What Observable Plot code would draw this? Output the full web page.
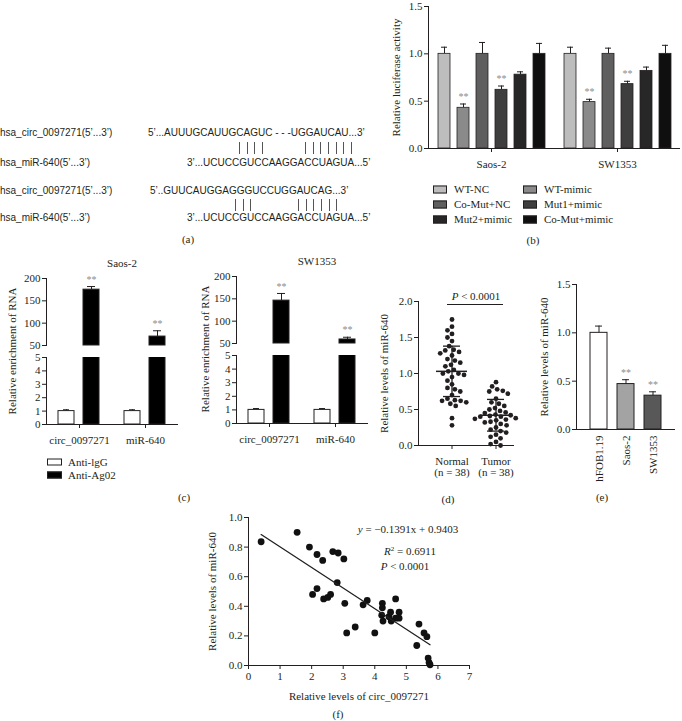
<!DOCTYPE html>
<html>
<head>
<meta charset="utf-8">
<script src="https://cdn.jsdelivr.net/npm/d3@7"></script>
<script src="https://cdn.jsdelivr.net/npm/@observablehq/plot@0.6"></script>
<style>
html,body{margin:0;padding:0;background:#fff;}
#root{position:relative;width:682px;height:721px;overflow:hidden;background:#fff;font-family:"Liberation Serif","Times New Roman",serif;color:#231f20;}
#root > svg{position:absolute;overflow:visible;}
.t{position:absolute;white-space:nowrap;line-height:1;}
.sw{display:inline-block;box-sizing:border-box;border:1px solid #231f20;}
</style>
</head>
<body>
<div id="root"></div>
<script>
// ================= DATA =================
// (a) sequence alignment
const seqLabels = ["hsa_circ_0097271(5\u2019...3\u2019)", "hsa_miR-640(5\u2019...3\u2019)", "hsa_circ_0097271(5\u2019...3\u2019)", "hsa_miR-640(5\u2019...3\u2019)"];
const seqTexts = ["5\u2019...AUUUGCAUUGCAGUC - - -UGGAUCAU...3\u2019", "3\u2019...UCUCCGUCCAAGGACCUAGUA...5\u2019", "5\u2019..GUUCAUGGAGGGUCCUGGAUCAG...3\u2019", "3\u2019...UCUCCGUCCAAGGACCUAGUA...5\u2019"];
const pairMarks = [["||||", "|||||||"], ["|||", "||||||"]];

// (b) luciferase
const lucGroups = ["Saos-2", "SW1353"];
const lucSeries = ["WT-NC", "WT-mimic", "Co-Mut+NC", "Mut1+mimic", "Mut2+mimic", "Co-Mut+mimic"];
const lucColors = ["#bdbdbd", "#8a8a8a", "#5f5f5f", "#3e3e3e", "#272727", "#0f0f0f"];
const lucSaos2 = [1.0, 0.43, 1.0, 0.62, 0.78, 1.0];
const lucSaos2Err = [0.07, 0.04, 0.12, 0.04, 0.03, 0.11];
const lucSW1353 = [1.0, 0.49, 1.0, 0.68, 0.82, 1.0];
const lucSW1353Err = [0.07, 0.03, 0.06, 0.03, 0.04, 0.09];
const lucSig = ["", "**", "", "**", "", ""];

// (c) RIP
const ripTargets = ["circ_0097271", "miR-640"];
const ripAntibodies = ["Anti-lgG", "Anti-Ag02"];
const ripFill = ["#ffffff", "#000000"];
const ripSaos2 = [1.0, 175, 1.0, 70];      // circ IgG, circ Ago2, miR IgG, miR Ago2
const ripSaos2Err = [0.1, 7, 0.1, 13];
const ripSW1353 = [1.0, 146, 1.0, 59];
const ripSW1353Err = [0.1, 16, 0.1, 5];
const ripSig = ["", "**", "", "**"];
const ripUpperDomain = [50, 200];
const ripUpperTicks = [50, 100, 150, 200];
const ripLowerDomain = [0, 5];
const ripLowerTicks = [0, 1, 2, 3, 4, 5];

// (d) tissues
const mirGroups = ["Normal", "Tumor"];
const mirGroupN = ["(n = 38)", "(n = 38)"];
const normalVals = [1.75, 1.65, 1.6, 1.55, 1.5, 1.45, 1.38, 1.33, 1.32, 1.3, 1.28, 1.25, 1.2, 1.18, 1.15, 1.12, 1.1, 1.05, 1.03, 1.0, 1.0, 0.98, 0.95, 0.9, 0.85, 0.8, 0.78, 0.75, 0.7, 0.65, 0.63, 0.62, 0.62, 0.6, 0.58, 0.55, 0.38, 0.28];
const tumorVals = [0.88, 0.82, 0.78, 0.76, 0.75, 0.72, 0.65, 0.6, 0.58, 0.55, 0.52, 0.5, 0.48, 0.46, 0.45, 0.43, 0.42, 0.41, 0.4, 0.4, 0.38, 0.37, 0.36, 0.35, 0.33, 0.32, 0.3, 0.28, 0.25, 0.22, 0.2, 0.18, 0.15, 0.12, 0.1, 0.05, 0.02, 0.0];
const mirMeans = [1.03, 0.42];
const mirSDs = [0.35, 0.22];
const mirYTicks = [0, 0.5, 1.0, 1.5, 2.0];

// (e) cell lines
const cellLines = ["hFOB1.19", "Saos-2", "SW1353"];
const cellVals = [1.0, 0.47, 0.35];
const cellErr = [0.07, 0.045, 0.04];
const cellFill = ["#ffffff", "#a3a3a3", "#585858"];
const cellSig = ["", "**", "**"];

// (f) correlation
const circLevels = [0.40, 1.54, 1.93, 2.17, 2.35, 2.67, 2.84, 3.02, 2.81, 2.03, 2.17, 2.38, 2.51, 2.60, 3.05, 3.11, 3.38, 3.63, 3.76, 4.00, 4.24, 4.24, 4.22, 4.26, 4.45, 4.50, 4.52, 4.66, 4.66, 4.77, 4.77, 5.40, 5.33, 5.56, 5.65, 5.69, 5.72, 5.75];
const mirLevels = [0.836, 0.90, 0.80, 0.75, 0.71, 0.77, 0.76, 0.72, 0.56, 0.48, 0.52, 0.45, 0.46, 0.48, 0.42, 0.22, 0.26, 0.41, 0.44, 0.22, 0.42, 0.39, 0.34, 0.30, 0.33, 0.36, 0.30, 0.45, 0.32, 0.36, 0.32, 0.28, 0.135, 0.22, 0.195, 0.05, 0.02, 0.005];
const regSlope = -0.1391, regIntercept = 0.9403;
const corrXTicks = [0, 1, 2, 3, 4, 5, 6, 7];
const corrYTicks = [0, 0.2, 0.4, 0.6, 0.8, 1.0];

// ================= HELPERS =================
const ink = "#231f20";
const sans = '"Liberation Sans", Arial, sans-serif';
const root = document.getElementById("root");
const S = () => ({fontFamily: '"Liberation Serif", "Times New Roman", serif', fontSize: "11px", color: ink, background: "transparent", overflow: "visible"});
function place(node, left, top) {
  node.style.position = "absolute";
  node.style.left = left + "px";
  node.style.top = top + "px";
  root.appendChild(node);
  return node;
}
function addText(html, x, y, {anchor = "middle", size = 11, family, rotate = 0, color} = {}) {
  const d = document.createElement("div");
  d.className = "t";
  d.innerHTML = html;
  d.style.left = x + "px";
  d.style.top = y + "px";
  d.style.fontSize = size + "px";
  if (family) d.style.fontFamily = family;
  if (color) d.style.color = color;
  const tx = anchor === "start" ? "0" : anchor === "end" ? "-100%" : "-50%";
  d.style.transform = `translate(${tx},-50%)` + (rotate ? ` rotate(${rotate}deg)` : "");
  root.appendChild(d);
  return d;
}
function pairBars(str, x, y, pitch, h) {
  const d = document.createElement("div");
  d.style.cssText = `position:absolute;left:${x}px;top:${y - h / 2}px;height:${h}px;display:flex;`;
  d.title = str;
  for (const ch of str) {
    const s = document.createElement("span");
    s.style.cssText = `display:block;width:${pitch}px;height:${h}px;box-sizing:border-box;border-left:1px solid #555;`;
    d.appendChild(s);
  }
  root.appendChild(d);
}
function swatchRow(label, fill, x, y, w, h, gap) {
  const d = document.createElement("div");
  d.className = "t";
  d.style.left = x + "px";
  d.style.top = y + "px";
  d.style.transform = "translate(0,-50%)";
  d.style.display = "flex";
  d.style.alignItems = "center";
  d.style.fontSize = "11px";
  const s = document.createElement("span");
  s.className = "sw";
  s.style.width = w + "px";
  s.style.height = h + "px";
  s.style.background = fill;
  s.style.marginRight = gap + "px";
  d.appendChild(s);
  d.appendChild(document.createTextNode(label));
  root.appendChild(d);
}

// ================= (a) =================
const rowY = [133, 163, 191, 218];
const seqX = [148, 187, 150, 187];
seqLabels.forEach((s, i) => addText(s, 0, rowY[i], {anchor: "start", size: 10, family: sans}));
seqTexts.forEach((s, i) => addText(s, seqX[i], rowY[i], {anchor: "start", size: 10, family: sans}));
const pairY = [148, 205];
const pairX = [[239, 305], [235, 298]];
pairMarks.forEach((grp, r) => grp.forEach((m, k) => pairBars(m, pairX[r][k], pairY[r], 7.7, 12)));
addText("(a)", 188, 239);

// ================= (b) =================
const lucRows = lucGroups.flatMap((g, gi) => lucSeries.map((s, si) => ({
  group: g, series: s,
  value: [lucSaos2, lucSW1353][gi][si],
  err: [lucSaos2Err, lucSW1353Err][gi][si],
  sig: lucSig[si]
})));
const plotB = Plot.plot({
  width: 322, height: 180, marginLeft: 68, marginRight: 2, marginTop: 6, marginBottom: 32,
  style: S(),
  fx: {domain: lucGroups, padding: 0, label: null, tickSize: 4, tickPadding: 8},
  x: {domain: lucSeries, paddingInner: 0.38, paddingOuter: 0.455, axis: null},
  y: {domain: [0, 1.5], ticks: [0, 0.5, 1, 1.5], tickFormat: ".1f", line: true, tickSize: 4, tickPadding: 2,
      label: "Relative luciferase activity", labelAnchor: "center", labelArrow: "none", labelOffset: 36},
  color: {domain: lucSeries, range: lucColors},
  marks: [
    Plot.ruleX(lucRows, {fx: "group", x: "series", y1: "value", y2: d => d.value + d.err, stroke: ink}),
    Plot.tickY(lucRows, {fx: "group", x: "series", y: d => d.value + d.err, stroke: ink, insetLeft: 3, insetRight: 3}),
    Plot.barY(lucRows, {fx: "group", x: "series", y: "value", fill: "series", stroke: ink, strokeWidth: 0.8}),
    Plot.text(lucRows.filter(d => d.sig), {fx: "group", x: "series", y: d => d.value + d.err, text: "sig", dy: -7, fill: "#8c8c8c", fontSize: 10}),
    Plot.ruleY([0], {stroke: ink})
  ]
});
place(plotB, 360, 0);
// legend (row-major, 2 columns)
lucSeries.forEach((s, i) => swatchRow(s, lucColors[i], i % 2 === 0 ? 433 : 523, 189 + Math.floor(i / 2) * 15, 14, 8, 7));
addText("(b)", 533, 240);

// ================= (c) =================
function ripPanel(left, upperTop, upperPx, lowerTop, lowerPx, vals, errs) {
  const rows = ripTargets.flatMap((t, i) => ripAntibodies.map((a, j) => ({
    target: t, ab: a, value: vals[i * 2 + j], err: errs[i * 2 + j], sig: ripSig[i * 2 + j]
  })));
  const big = rows.filter(d => d.value > ripUpperDomain[0]);
  const small = rows.filter(d => d.value <= ripLowerDomain[1]);
  const base = {
    width: 180, marginLeft: 46, marginRight: 2, style: S(),
    x: {domain: ripAntibodies, paddingInner: 0.34, paddingOuter: 0.49, axis: null},
    color: {domain: ripAntibodies, range: ripFill}
  };
  const upper = Plot.plot({
    ...base, height: 8 + upperPx + 2, marginTop: 8, marginBottom: 2,
    fx: {domain: ripTargets, padding: 0, axis: null},
    y: {domain: ripUpperDomain, ticks: ripUpperTicks, tickFormat: "d", line: true, tickSize: 4, tickPadding: 2, label: null},
    marks: [
      Plot.ruleX(big, {fx: "target", x: "ab", y1: "value", y2: d => d.value + d.err, stroke: ink}),
      Plot.tickY(big, {fx: "target", x: "ab", y: d => d.value + d.err, stroke: ink, insetLeft: 4, insetRight: 4}),
      Plot.barY(big, {fx: "target", x: "ab", y1: ripUpperDomain[0], y2: "value", fill: "ab", stroke: ink}),
      Plot.text(big.filter(d => d.sig), {fx: "target", x: "ab", y: d => d.value + d.err, text: "sig", dy: -7, fill: "#8c8c8c", fontSize: 10})
    ]
  });
  const lower = Plot.plot({
    ...base, height: 7 + lowerPx + 30, marginTop: 7, marginBottom: 30,
    fx: {domain: ripTargets, padding: 0, label: null, tickSize: 4, tickPadding: 8},
    y: {domain: ripLowerDomain, ticks: ripLowerTicks, tickFormat: "d", line: true, tickSize: 4, tickPadding: 2, label: null},
    marks: [
      Plot.ruleX(small, {fx: "target", x: "ab", y1: "value", y2: d => d.value + d.err, stroke: ink}),
      Plot.tickY(small, {fx: "target", x: "ab", y: d => d.value + d.err, stroke: ink, insetLeft: 5, insetRight: 5}),
      Plot.barY(rows, {fx: "target", x: "ab", y: "value", fill: "ab", stroke: ink, clip: true}),
      Plot.ruleY([0], {stroke: ink})
    ]
  });
  place(upper, left, upperTop);
  place(lower, left, lowerTop);
}
ripPanel(0, 270, 67, 350, 67, ripSaos2, ripSaos2Err);
ripPanel(190, 268, 67, 348, 68, ripSW1353, ripSW1353Err);
addText("Saos-2", 122, 263);
addText("SW1353", 317, 261);
addText("Relative enrichment of RNA", 12, 351, {rotate: -90});
addText("Relative enrichment of RNA", 205, 349, {rotate: -90});
ripAntibodies.forEach((a, i) => swatchRow(a, ripFill[i], 47, 462 + i * 13, 15, 7, 6));
addText("(c)", 184, 497);

// ================= (d) =================
const dRows = mirGroups.flatMap((g, i) => (i === 0 ? normalVals : tumorVals).map(v => ({group: g, value: v})));
const dSummary = mirGroups.map((g, i) => ({group: g, mean: mirMeans[i], sd: mirSDs[i]}));
const dBand = {domain: mirGroups, paddingInner: 0.3, paddingOuter: 0.2167, align: 0.83};
const dDims = {width: 190, height: 200, marginLeft: 88, marginRight: 6, marginTop: 11, marginBottom: 45};
const plotDdots = Plot.plot({
  ...dDims, style: S(),
  fx: {...dBand, axis: null},
  y: {domain: [0, 2], axis: null},
  marks: [
    Plot.dot(dRows, Plot.dodgeX("middle", {fx: "group", y: "value", r: 2.4, fill: ink, padding: 0}))
  ]
});
const plotDaxes = Plot.plot({
  ...dDims, style: S(),
  x: {...dBand, label: null, tickSize: 4, tickPadding: 8, tickFormat: d => d + "\n" + mirGroupN[mirGroups.indexOf(d)]},
  y: {domain: [0, 2], ticks: mirYTicks, tickFormat: ".1f", line: true, tickSize: 4, tickPadding: 2,
      label: "Relative levels of miR-640", labelAnchor: "center", labelArrow: "none", labelOffset: 38},
  marks: [
    Plot.ruleY([0], {stroke: ink}),
    Plot.ruleX(dSummary, {x: "group", y1: d => d.mean - d.sd, y2: d => d.mean + d.sd, stroke: ink, strokeWidth: 1.3}),
    Plot.tickY(dSummary, {x: "group", y: "mean", stroke: ink, strokeWidth: 1.5}),
    Plot.tickY(dSummary, {x: "group", y: d => d.mean + d.sd, stroke: ink, strokeWidth: 1.3, insetLeft: 7, insetRight: 7}),
    Plot.tickY(dSummary, {x: "group", y: d => d.mean - d.sd, stroke: ink, strokeWidth: 1.3, insetLeft: 7, insetRight: 7})
  ]
});
place(plotDdots, 330, 290);
place(plotDaxes, 330, 290);
addText("<i>P</i> &lt; 0.0001", 476, 296);
const pLine = document.createElement("div");
pLine.style.cssText = `position:absolute;left:447px;top:304px;width:56px;height:0;border-top:1px solid ${ink};`;
root.appendChild(pLine);
addText("(d)", 448, 499);

// ================= (e) =================
const eRows = cellLines.map((c, i) => ({cell: c, value: cellVals[i], err: cellErr[i], sig: cellSig[i]}));
const plotE = Plot.plot({
  width: 172, height: 219, marginLeft: 66, marginRight: 7, marginTop: 14, marginBottom: 60,
  style: S(),
  x: {domain: cellLines, paddingInner: 0.36, paddingOuter: 0.45, label: null, tickSize: 0, tickPadding: 6, tickRotate: -90},
  y: {domain: [0, 1.5], ticks: [0, 0.5, 1, 1.5], tickFormat: ".1f", line: true, tickSize: 4, tickPadding: 2,
      label: "Relative levels of miR-640", labelAnchor: "center", labelArrow: "none", labelOffset: 36},
  color: {domain: cellLines, range: cellFill},
  marks: [
    Plot.ruleX(eRows, {x: "cell", y1: "value", y2: d => d.value + d.err, stroke: ink}),
    Plot.tickY(eRows, {x: "cell", y: d => d.value + d.err, stroke: ink, insetLeft: 5, insetRight: 5}),
    Plot.barY(eRows, {x: "cell", y: "value", fill: "cell", stroke: ink}),
    Plot.text(eRows.filter(d => d.sig), {x: "cell", y: d => d.value + d.err, text: "sig", dy: -7, fill: "#8c8c8c", fontSize: 10}),
    Plot.ruleY([0], {stroke: ink})
  ]
});
place(plotE, 510, 270);
addText("(e)", 602, 497);

// ================= (f) =================
const fRows = circLevels.map((c, i) => ({circ: c, mir: mirLevels[i]}));
const fExt = d3.extent(circLevels);
const fLine = fExt.map(x => ({circ: x, mir: regSlope * x + regIntercept}));
const plotF = Plot.plot({
  width: 300, height: 195, marginLeft: 68, marginRight: 11, marginTop: 7, marginBottom: 40,
  style: S(),
  x: {domain: [0, 7], ticks: corrXTicks, tickFormat: "d", line: true, tickSize: 4, tickPadding: 3,
      label: "Relative levels of circ_0097271", labelAnchor: "center", labelArrow: "none", labelOffset: 34},
  y: {domain: [0, 1], ticks: corrYTicks, tickFormat: ".1f", line: true, tickSize: 4, tickPadding: 2,
      label: "Relative levels of miR-640", labelAnchor: "center", labelArrow: "none", labelOffset: 40},
  marks: [
    Plot.dot(fRows, {x: "circ", y: "mir", r: 3.4, fill: "#111"}),
    Plot.line(fLine, {x: "circ", y: "mir", stroke: ink, strokeWidth: 1.3})
  ]
});
place(plotF, 180, 510);
addText("<i>y</i> = \u22120.1391x + 0.9403", 408, 529);
addText("<i>R</i><sup style='font-size:7px;vertical-align:4px'>2</sup> = 0.6911", 410, 551);
addText("<i>P</i> &lt; 0.0001", 405, 566);
addText("(f)", 338, 714);
</script>
</body>
</html>
